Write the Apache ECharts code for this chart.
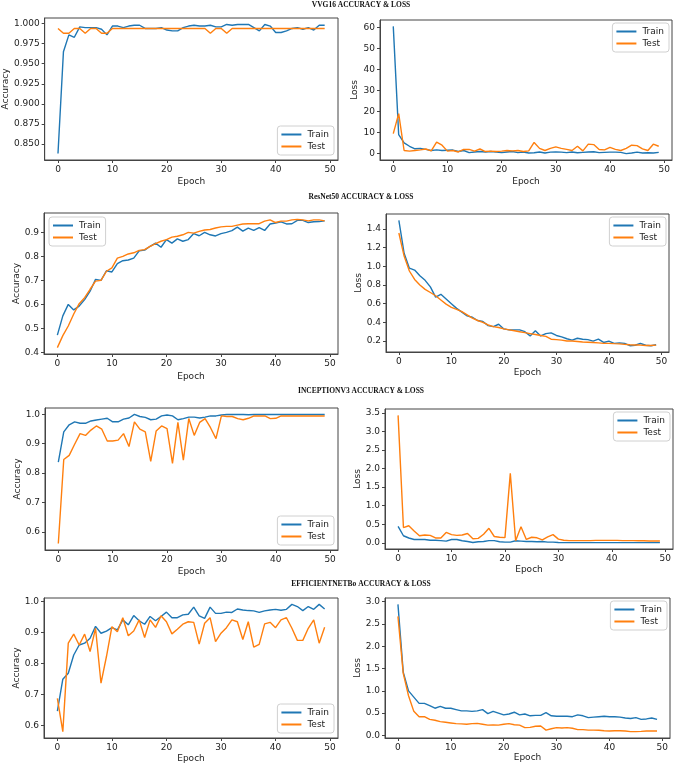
<!DOCTYPE html>
<html>
<head>
<meta charset="utf-8">
<script src="https://cdn.jsdelivr.net/npm/echarts@6/dist/echarts.min.js"></script>
<style>
html,body{margin:0;padding:0;background:#fff;}
#chart{width:677px;height:766px;}
</style>
</head>
<body>
<div id="chart"></div>
<script>
// ---- Data ----
const epochs = [0,1,2,3,4,5,6,7,8,9,10,11,12,13,14,15,16,17,18,19,20,21,22,23,24,25,26,27,28,29,30,31,32,33,34,35,36,37,38,39,40,41,42,43,44,45,46,47,48,49];
const xTicks = [0,10,20,30,40,50];
const seriesNames = ['Train','Test'];
const panelTitles = ['VVG16 ACCURACY & LOSS','ResNet50 ACCURACY & LOSS','INCEPTIONV3 ACCURACY & LOSS','EFFICIENTNETBo ACCURACY & LOSS'];

const vggAccTrain = [0.838,0.965,0.986,0.983,0.996,0.995,0.995,0.995,0.993,0.986,
  0.997,0.997,0.995,0.997,0.998,0.998,0.994,0.994,0.994,0.995,
  0.992,0.991,0.991,0.995,0.997,0.998,0.997,0.997,0.998,0.996,
  0.996,0.999,0.998,0.999,0.999,0.999,0.995,0.991,0.999,0.997,
  0.989,0.989,0.991,0.994,0.995,0.993,0.995,0.992,0.998,0.998];
const vggAccTest = [0.994,0.988,0.988,0.994,0.994,0.988,0.994,0.994,0.988,0.988,
  0.994,0.994,0.994,0.994,0.994,0.994,0.994,0.994,0.994,0.994,
  0.994,0.994,0.994,0.994,0.994,0.994,0.994,0.994,0.988,0.994,
  0.994,0.988,0.994,0.994,0.994,0.994,0.994,0.994,0.994,0.994,
  0.994,0.994,0.994,0.994,0.994,0.994,0.994,0.994,0.994,0.994];
const vggLossTrain = [60.5,9.0,5.1,3.5,2.3,2.5,2.0,1.5,1.8,1.5,
  1.6,1.7,1.0,1.5,0.5,0.8,1.0,0.8,1.0,0.7,
  0.5,0.8,1.0,0.5,0.8,0.3,0.4,0.8,0.3,0.7,
  0.8,0.7,0.5,0.8,0.4,0.6,0.8,0.9,0.5,0.6,
  0.7,0.7,0.6,0.0,0.3,0.7,0.3,0.4,0.3,0.6];
const vggLossTest = [9.5,19.0,1.5,1.2,1.5,1.8,2.2,1.3,5.5,4.0,
  1.2,1.5,0.8,2.0,2.0,1.2,2.2,1.0,1.2,1.0,
  1.2,1.5,1.3,1.5,1.0,1.3,5.3,2.5,1.5,2.5,
  3.2,2.5,2.0,1.5,3.5,1.3,4.5,4.3,2.0,1.8,
  3.0,2.0,1.5,2.5,4.0,3.8,2.3,1.5,4.5,3.5];

const resAccTrain = [0.472,0.552,0.600,0.577,0.593,0.620,0.655,0.704,0.700,0.740,
  0.735,0.770,0.782,0.785,0.793,0.823,0.826,0.842,0.855,0.838,
  0.870,0.855,0.873,0.863,0.870,0.895,0.886,0.900,0.890,0.885,
  0.895,0.900,0.907,0.922,0.905,0.918,0.908,0.920,0.908,0.935,
  0.939,0.944,0.935,0.936,0.950,0.950,0.941,0.944,0.945,0.948];
const resAccTest = [0.420,0.470,0.510,0.560,0.603,0.628,0.663,0.697,0.700,0.738,
  0.752,0.793,0.800,0.810,0.815,0.825,0.828,0.842,0.853,0.863,
  0.870,0.880,0.884,0.890,0.900,0.897,0.904,0.910,0.912,0.918,
  0.923,0.925,0.925,0.930,0.935,0.936,0.936,0.936,0.947,0.952,
  0.941,0.947,0.947,0.952,0.954,0.952,0.948,0.952,0.952,0.948];
const resLossTrain = [1.493,1.140,0.980,0.960,0.900,0.850,0.780,0.670,0.700,0.650,
  0.600,0.550,0.510,0.470,0.455,0.420,0.410,0.365,0.355,0.380,
  0.330,0.320,0.320,0.320,0.300,0.255,0.310,0.255,0.280,0.287,
  0.260,0.245,0.225,0.210,0.230,0.220,0.215,0.200,0.220,0.185,
  0.200,0.175,0.180,0.175,0.150,0.155,0.175,0.155,0.150,0.160];
const resLossTest = [1.357,1.110,0.950,0.860,0.800,0.753,0.720,0.685,0.640,0.595,
  0.560,0.540,0.515,0.480,0.445,0.420,0.400,0.372,0.355,0.345,
  0.330,0.320,0.310,0.300,0.290,0.280,0.270,0.260,0.250,0.220,
  0.215,0.210,0.200,0.200,0.195,0.190,0.188,0.185,0.180,0.175,
  0.175,0.172,0.170,0.165,0.160,0.157,0.157,0.153,0.153,0.157];

const incAccTrain = [0.837,0.940,0.964,0.974,0.969,0.969,0.977,0.980,0.983,0.986,
  0.974,0.974,0.983,0.987,0.999,0.992,0.989,0.981,0.983,0.994,
  0.997,0.994,0.981,0.985,0.990,0.990,0.987,0.990,0.994,0.994,
  0.997,0.999,0.999,0.999,0.999,0.998,0.999,0.999,0.999,0.999,
  0.999,0.999,0.999,0.999,0.999,0.999,0.999,0.999,0.999,0.999];
const incAccTest = [0.561,0.846,0.860,0.898,0.934,0.928,0.946,0.960,0.949,0.909,
  0.909,0.912,0.934,0.890,0.974,0.949,0.940,0.840,0.943,0.960,
  0.951,0.833,0.972,0.844,0.985,0.928,0.972,0.985,0.954,0.917,
  0.994,0.992,0.992,0.985,0.981,0.986,0.994,0.994,0.994,0.985,
  0.986,0.994,0.994,0.994,0.994,0.994,0.994,0.994,0.994,0.994];
const incLossTrain = [0.44,0.19,0.13,0.09,0.09,0.09,0.07,0.07,0.06,0.045,
  0.09,0.09,0.055,0.035,0.01,0.03,0.035,0.06,0.06,0.03,
  0.02,0.02,0.055,0.045,0.035,0.035,0.03,0.035,0.02,0.02,
  0.01,0.005,0.005,0.005,0.005,0.005,0.005,0.005,0.005,0.005,
  0.005,0.005,0.005,0.005,0.005,0.005,0.005,0.005,0.005,0.005];
const incLossTest = [3.43,0.41,0.46,0.32,0.19,0.21,0.20,0.13,0.13,0.28,
  0.22,0.20,0.21,0.25,0.11,0.12,0.23,0.39,0.17,0.15,
  0.14,1.87,0.055,0.43,0.09,0.15,0.135,0.08,0.16,0.22,
  0.10,0.07,0.06,0.06,0.06,0.06,0.06,0.065,0.065,0.065,
  0.065,0.065,0.06,0.06,0.06,0.055,0.055,0.05,0.05,0.05];

const effAccTrain = [0.647,0.750,0.769,0.828,0.860,0.866,0.882,0.920,0.898,0.905,
  0.916,0.909,0.941,0.925,0.955,0.938,0.927,0.952,0.938,0.952,
  0.966,0.948,0.948,0.957,0.959,0.982,0.954,0.946,0.982,0.962,
  0.962,0.966,0.965,0.976,0.973,0.971,0.970,0.965,0.970,0.973,
  0.975,0.972,0.975,0.991,0.984,0.971,0.984,0.975,0.991,0.976];
const effAccTest = [0.688,0.581,0.866,0.895,0.860,0.895,0.839,0.914,0.737,0.823,
  0.919,0.903,0.948,0.890,0.905,0.941,0.884,0.941,0.917,0.954,
  0.935,0.896,0.911,0.927,0.935,0.933,0.863,0.930,0.948,0.871,
  0.898,0.916,0.941,0.935,0.878,0.935,0.853,0.862,0.928,0.933,
  0.916,0.941,0.948,0.914,0.875,0.875,0.914,0.941,0.866,0.917];
const effLossTrain = [2.94,1.42,1.00,0.86,0.72,0.72,0.67,0.61,0.65,0.61,
  0.61,0.58,0.55,0.55,0.54,0.55,0.58,0.49,0.54,0.50,
  0.46,0.48,0.52,0.46,0.48,0.44,0.45,0.45,0.51,0.44,
  0.43,0.43,0.43,0.42,0.46,0.44,0.40,0.41,0.42,0.43,
  0.42,0.42,0.41,0.39,0.38,0.40,0.36,0.37,0.39,0.36];
const effLossTest = [2.67,1.39,0.89,0.54,0.42,0.42,0.36,0.34,0.31,0.295,
  0.28,0.265,0.26,0.25,0.265,0.27,0.25,0.23,0.235,0.23,
  0.25,0.265,0.24,0.23,0.175,0.18,0.205,0.21,0.12,0.15,
  0.175,0.165,0.175,0.16,0.13,0.13,0.12,0.12,0.115,0.105,
  0.10,0.105,0.105,0.10,0.085,0.085,0.09,0.10,0.10,0.10];

// y tick labels per panel
const ticksVggAcc = [0.850,0.875,0.900,0.925,0.950,0.975,1.000];
const ticksVggLoss = [0,10,20,30,40,50,60];
const ticksResAcc = [0.4,0.5,0.6,0.7,0.8,0.9];
const ticksResLoss = [0.2,0.4,0.6,0.8,1.0,1.2,1.4];
const ticksIncAcc = [0.6,0.7,0.8,0.9,1.0];
const ticksIncLoss = [0.0,0.5,1.0,1.5,2.0,2.5,3.0,3.5];
const ticksEffAcc = [0.6,0.7,0.8,0.9,1.0];
const ticksEffLoss = [0.0,0.5,1.0,1.5,2.0,2.5,3.0];

// ---- Layout / styling ----
const BLUE = '#1f77b4', ORANGE = '#ff7f0e', INK = '#222', FRAME = '#444';
const W = 677, H = 766;
const panels = [
  {train:vggAccTrain, test:vggAccTest, ticks:ticksVggAcc, dec:3, yName:'Accuracy', box:[44,18,294,142], yGap:33, xGap:17, leg:'br'},
  {train:vggLossTrain, test:vggLossTest, ticks:ticksVggLoss, dec:0, yName:'Loss', box:[380,20,292,140], yGap:18, xGap:17, leg:'tr'},
  {train:resAccTrain, test:resAccTest, ticks:ticksResAcc, dec:1, yName:'Accuracy', box:[44,213,294,141], yGap:22, xGap:18, leg:'tl'},
  {train:resLossTrain, test:resLossTest, ticks:ticksResLoss, dec:1, yName:'Loss', box:[386,214,283,138], yGap:21, xGap:16, leg:'tr'},
  {train:incAccTrain, test:incAccTest, ticks:ticksIncAcc, dec:1, yName:'Accuracy', box:[45,408,293,142], yGap:23, xGap:17, leg:'br'},
  {train:incLossTrain, test:incLossTest, ticks:ticksIncLoss, dec:1, yName:'Loss', box:[385,409,288,140], yGap:22, xGap:16, leg:'tr'},
  {train:effAccTrain, test:effAccTest, ticks:ticksEffAcc, dec:1, yName:'Accuracy', box:[44,598,294,140], yGap:22, xGap:16, leg:'br'},
  {train:effLossTrain, test:effLossTest, ticks:ticksEffLoss, dec:1, yName:'Loss', box:[385,598,285,140], yGap:22, xGap:14, leg:'tr'}
];
const titleY = [5,197,391,584];

const grid = [], xAxis = [], yAxis = [], series = [], legend = [], graphic = [];
const fontFam = '"DejaVu Sans", sans-serif';

panels.forEach((p, i) => {
  const [l, t, w, h] = p.box;
  grid.push({left:l, top:t, width:w, height:h, show:true, borderColor:FRAME, borderWidth:1, backgroundColor:'transparent', containLabel:false});
  xAxis.push({
    type:'value', gridIndex:i, min:-2.45, max:51.45,
    name:'Epoch', nameLocation:'middle', nameGap:p.xGap,
    nameTextStyle:{fontSize:9, color:INK, fontFamily:fontFam},
    axisLine:{show:true, onZero:false, lineStyle:{color:FRAME, width:1}},
    axisTick:{show:true, length:3, lineStyle:{color:FRAME}, customValues:xTicks},
    axisLabel:{fontSize:9, color:INK, margin:5, fontFamily:fontFam, customValues:xTicks, formatter:v => String(Math.round(v))},
    splitLine:{show:false}
  });
  yAxis.push({
    type:'value', gridIndex:i, scale:true,
    min: v => v.min - 0.05*(v.max - v.min),
    max: v => v.max + 0.05*(v.max - v.min),
    name:p.yName, nameLocation:'middle', nameGap:p.yGap, nameRotate:90,
    nameTextStyle:{fontSize:9, color:INK, fontFamily:fontFam},
    axisLine:{show:true, onZero:false, lineStyle:{color:FRAME, width:1}},
    axisTick:{show:true, length:3, lineStyle:{color:FRAME}, customValues:p.ticks},
    axisLabel:{fontSize:9, color:INK, margin:5, fontFamily:fontFam, customValues:p.ticks, formatter:v => v.toFixed(p.dec)},
    splitLine:{show:false}
  });
  [[p.train, BLUE, seriesNames[0]], [p.test, ORANGE, seriesNames[1]]].forEach(([arr, col, nm]) => {
    series.push({
      type:'line', name:nm, xAxisIndex:i, yAxisIndex:i,
      data: epochs.map((e, k) => [e, arr[k]]),
      symbol:'none', showSymbol:false, animation:false,
      lineStyle:{color:col, width:1.4}, itemStyle:{color:col}
    });
  });
  const lg = {
    data:seriesNames, orient:'vertical', icon:'rect', itemWidth:20, itemHeight:2, itemGap:3,
    padding:[4,5,4,4], borderColor:'#d0d0d0', borderWidth:1, borderRadius:3, backgroundColor:'#fff',
    textStyle:{fontSize:9, color:INK, fontFamily:fontFam, padding:[0,0,0,1]},
    selectedMode:false
  };
  if (p.leg === 'br') { lg.right = W - (l + w) + 4; lg.bottom = H - (t + h) + 5; }
  else if (p.leg === 'tr') { lg.right = W - (l + w) + 3; lg.top = t + 3; }
  else { lg.left = l + 5; lg.top = t + 4; }
  legend.push(lg);
});

panelTitles.forEach((txt, i) => {
  graphic.push({type:'text', x:361, y:titleY[i], style:{text:txt, textAlign:'center', textVerticalAlign:'middle', font:'bold 7.5px "Liberation Serif", serif', fill:'#111'}});
});

const chart = echarts.init(document.getElementById('chart'), null, {renderer:'canvas'});
chart.setOption({
  backgroundColor:'#fff', animation:false,
  grid, xAxis, yAxis, series, legend, graphic
});
</script>
</body>
</html>
